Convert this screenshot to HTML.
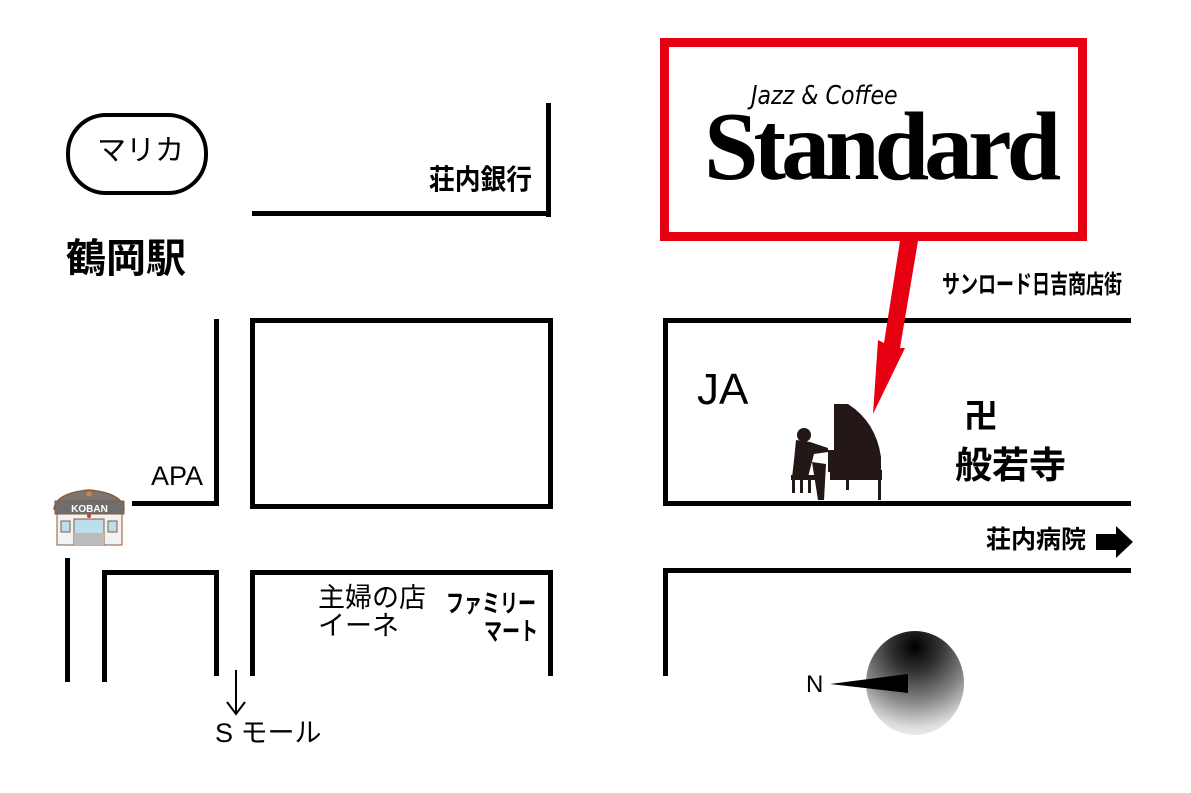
<!DOCTYPE html>
<html><head><meta charset="utf-8"><style>
body{margin:0;width:1191px;height:793px;background:#fff;position:relative;overflow:hidden;font-family:"Liberation Sans","Noto Sans CJK JP",sans-serif;}
.l{position:absolute;background:#000;}
.t{position:absolute;white-space:nowrap;color:#000;line-height:1;}
.b{font-weight:bold;}
</style></head><body>
<!-- roads -->
<div class="l" style="left:546px;top:103px;width:5px;height:114px"></div>
<div class="l" style="left:252px;top:211px;width:299px;height:5px"></div>
<div class="l" style="left:214px;top:319px;width:5px;height:187px"></div>
<div class="l" style="left:132px;top:501px;width:87px;height:5px"></div>
<div style="position:absolute;left:250px;top:318px;width:293px;height:181px;border:5px solid #000"></div>
<div class="l" style="left:663px;top:318px;width:5px;height:188px"></div>
<div class="l" style="left:663px;top:318px;width:468px;height:5px"></div>
<div class="l" style="left:663px;top:501px;width:468px;height:5px"></div>
<div class="l" style="left:65px;top:558px;width:5px;height:124px"></div>
<div class="l" style="left:102px;top:570px;width:5px;height:112px"></div>
<div class="l" style="left:102px;top:570px;width:117px;height:5px"></div>
<div class="l" style="left:214px;top:570px;width:5px;height:106px"></div>
<div class="l" style="left:250px;top:570px;width:5px;height:106px"></div>
<div class="l" style="left:250px;top:570px;width:303px;height:5px"></div>
<div class="l" style="left:548px;top:570px;width:5px;height:106px"></div>
<div class="l" style="left:663px;top:568px;width:5px;height:108px"></div>
<div class="l" style="left:663px;top:568px;width:468px;height:5px"></div>
<!-- marika -->
<div style="position:absolute;left:66px;top:113px;width:134px;height:74px;border:4px solid #000;border-radius:40px"></div>
<div class="t" style="left:97px;top:137px;font-size:29px">マリカ</div>
<div class="t b" style="left:429px;top:166px;font-size:28px;transform:scaleX(0.92);transform-origin:left">荘内銀行</div>
<div class="t b" style="left:66px;top:239px;font-size:40px">鶴岡駅</div>
<div class="t" style="left:151px;top:463px;font-size:27px">APA</div>
<!-- koban -->
<svg style="position:absolute;left:52px;top:487px" width="75" height="62" viewBox="0 0 75 62">
<path d="M2 22 Q4 6 37 3 Q70 6 72 22 Z" fill="#777" stroke="#8a5a3a" stroke-width="1.5"/>
<rect x="3" y="14" width="69" height="13" fill="#6e6e6e" stroke="#8a5a3a"/>
<text x="37.5" y="25" font-size="10" font-weight="bold" fill="#fff" text-anchor="middle" font-family="Liberation Sans">KOBAN</text>
<rect x="5" y="27" width="65" height="31" fill="#f2f2f2" stroke="#8a5a3a"/>
<rect x="22" y="32" width="30" height="26" fill="#bcdff0" stroke="#8a5a3a"/>
<rect x="22" y="46" width="30" height="12" fill="#bbb"/>
<rect x="9" y="34" width="9" height="11" fill="#bcdff0" stroke="#8a5a3a"/>
<rect x="56" y="34" width="9" height="11" fill="#bcdff0" stroke="#8a5a3a"/>
<circle cx="37" cy="29" r="2" fill="#d33"/><circle cx="37" cy="7" r="2.5" fill="#c84"/>
</svg>
<!-- S mall -->
<svg style="position:absolute;left:224px;top:668px" width="26" height="50"><path d="M12 2 V46 M3 34 L12 46 L21 34" stroke="#000" stroke-width="2" fill="none"/></svg>
<div class="t" style="left:215px;top:720px;font-size:27px">S モール</div>
<div class="t" style="left:318px;top:584px;font-size:27px;line-height:28px">主婦の店<br>イーネ</div>
<div class="t b" style="left:446px;top:592px;font-size:25px;transform:scaleX(0.72);transform-origin:left">ファミリー</div>
<div class="t b" style="left:484px;top:620px;font-size:25px;transform:scaleX(0.72);transform-origin:left">マート</div>
<!-- red box -->
<div style="position:absolute;left:660px;top:38px;width:409px;height:185px;border:9px solid #e60012"></div>
<div class="t" style="left:751px;top:83px;font-size:26px;font-family:'DejaVu Sans',sans-serif;font-style:italic;transform:scaleX(0.85);transform-origin:left">Jazz &amp; Coffee</div>
<div class="t" style="left:704px;top:98px;font-size:98px;font-family:'Liberation Serif',serif;font-weight:bold;letter-spacing:-5px">Standard</div>
<svg style="position:absolute;left:0;top:0" width="1191" height="793"><polygon points="900,241 918,241 900,348 905,348 873,414 878,340 884,343" fill="#e60012"/></svg>
<div class="t b" style="left:942px;top:273px;font-size:25px;transform:scaleX(0.72);transform-origin:left">サンロード日吉商店街</div>
<div class="t" style="left:697px;top:368px;font-size:44px">JA</div>
<!-- piano -->
<svg style="position:absolute;left:788px;top:402px" width="100" height="100" viewBox="0 0 100 100">
<g fill="#231815">
<path d="M46 2 L60 2 Q88 20 93 55 L93 70 L40 70 L40 48 L46 48 Z"/>
<rect x="42" y="68" width="52" height="10"/>
<rect x="90" y="76" width="3" height="22"/>
<rect x="58" y="76" width="3" height="12"/>
<circle cx="16" cy="33" r="7"/>
<path d="M8 38 Q6 60 4 75 L20 75 L26 52 L40 50 L40 46 L22 40 Z"/>
<rect x="3" y="73" width="30" height="5"/>
<rect x="4" y="77" width="3" height="14"/><rect x="12" y="77" width="3" height="14"/><rect x="20" y="77" width="3" height="14"/>
<path d="M24 60 L38 62 L36 98 L30 98 Z"/>
</g></svg>
<div class="t b" style="left:964px;top:400px;font-size:34px">卍</div>
<div class="t b" style="left:955px;top:447px;font-size:37px">般若寺</div>
<div class="t b" style="left:986px;top:528px;font-size:25px">荘内病院</div>
<svg style="position:absolute;left:1096px;top:525px" width="40" height="34"><polygon points="0,9 20,9 20,1 37,17 20,33 20,25 0,25" fill="#000"/></svg>
<!-- compass -->
<div style="position:absolute;left:866px;top:631px;width:98px;height:104px;border-radius:50%;background:radial-gradient(circle at 50% 15%,#000 0%,#333 25%,#888 55%,#ddd 80%,#fff 100%)"></div>
<svg style="position:absolute;left:0;top:0" width="1191" height="793"><polygon points="830,684 908,674 908,693" fill="#000"/></svg>
<div class="t" style="left:806px;top:673px;font-size:24px">N</div>
</body></html>
